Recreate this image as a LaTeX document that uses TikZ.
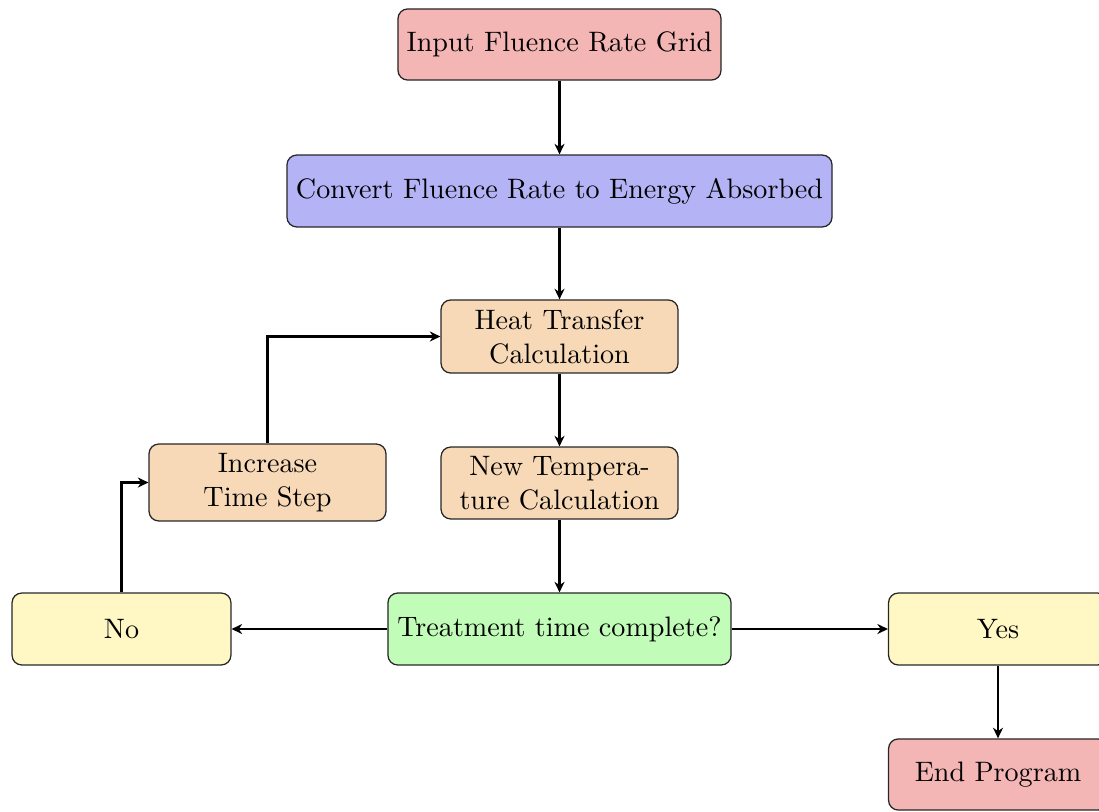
\documentclass[tikz,border=0pt]{standalone}
\usetikzlibrary{arrows.meta}
\definecolor{cRed}{RGB}{244,181,181}
\definecolor{cBlue}{RGB}{179,179,246}
\definecolor{cOrange}{RGB}{247,217,183}
\definecolor{cYellow}{RGB}{255,248,196}
\definecolor{cGreen}{RGB}{193,252,184}
\tikzset{
  box/.style={draw=black!85, line width=0.45pt, rounded corners=3.5pt, align=center,
    inner sep=2pt, minimum height=25.9pt, font=\fontsize{10.12pt}{12.2pt}\selectfont},
  flow/.style={-{Stealth[length=3.8pt,width=3.6pt,inset=1.2pt]}, line width=0.75pt},
}
\begin{document}
\begin{tikzpicture}[x=0.36pt, y=-0.36pt]
\clip (0,0) rectangle (1099,811);
\useasboundingbox (0,0) rectangle (1099,811);

\node[box, fill=cRed, minimum width=116.3pt, minimum height=25.6pt] (input) at (559.5,44.5) {Input Fluence Rate Grid};
\node[box, fill=cBlue, minimum width=196.2pt] (convert) at (559.5,191) {Convert Fluence Rate to Energy Absorbed};
\node[box, fill=cOrange, minimum width=85.3pt, minimum height=26.3pt] (heat) at (559.5,336.5) {Heat Transfer\\Calculation};
\node[box, fill=cOrange, minimum width=85.3pt] (temp) at (559.5,483) {New Tempera-\\ture Calculation};
\node[box, fill=cOrange, minimum width=85.3pt, minimum height=27.7pt] (incr) at (267.5,482.5) {Increase\\Time Step};
\node[box, fill=cGreen, minimum width=123.5pt] (check) at (559.5,629) {Treatment time complete?};
\node[box, fill=cYellow, minimum width=78.8pt] (no) at (121.5,629) {No};
\node[box, fill=cYellow, minimum width=78.8pt] (yes) at (998,629) {Yes};
\node[box, fill=cRed, minimum width=78.8pt, minimum height=25.6pt] (end) at (998,774.5) {End Program};

\draw[flow] (input) -- (convert);
\draw[flow] (convert) -- (heat);
\draw[flow] (heat) -- (temp);
\draw[flow] (temp) -- (check);
\draw[flow] (check) -- (no);
\draw[flow] (check) -- (yes);
\draw[flow] (yes) -- (end);
\draw[flow] (no.north) |- (incr.west);
\draw[flow] (incr.north) |- (heat.west);
\end{tikzpicture}
\end{document}
